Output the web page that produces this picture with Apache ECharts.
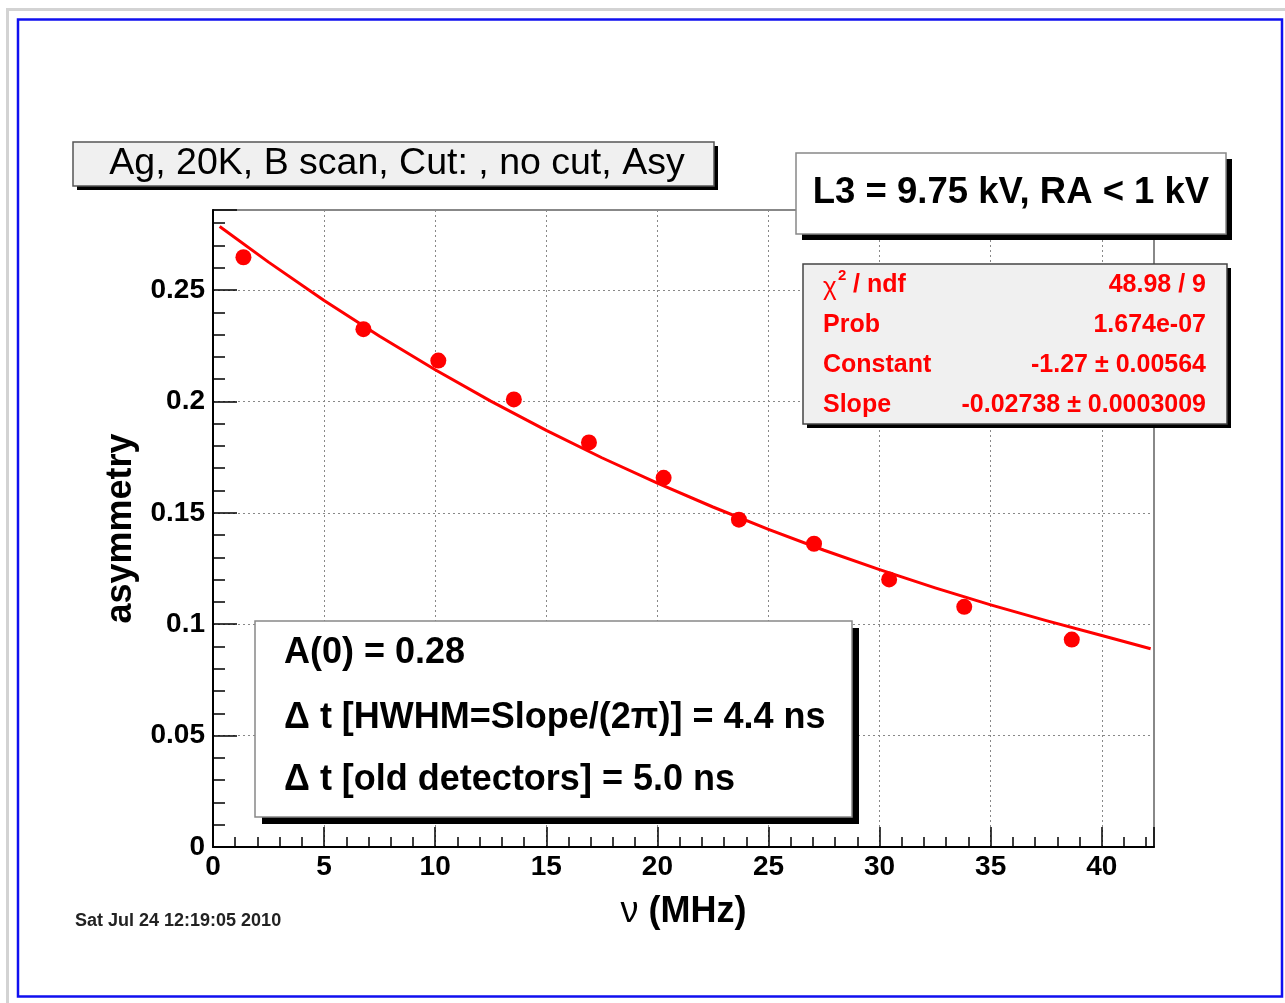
<!DOCTYPE html>
<html>
<head>
<meta charset="utf-8">
<script src="https://cdn.jsdelivr.net/npm/echarts@6/dist/echarts.min.js"></script>
<style>
html, body { margin: 0; padding: 0; background: #fff; }
#chart { width: 1285px; height: 1003px; }
</style>
</head>
<body>
<div id="chart"></div>
<script>
// measured asymmetry vs frequency
var nuMHz = [1.37, 6.77, 10.14, 13.54, 16.92, 20.28, 23.67, 27.05, 30.43, 33.81, 38.65];
var asym  = [0.2647, 0.2324, 0.2183, 0.2009, 0.1816, 0.1657, 0.1469, 0.1361, 0.1201, 0.1078, 0.0931];

// fit curve
var fitNu   = [0.3, 2.5, 5, 7.5, 10, 12.5, 15, 17.5, 20, 22.5, 25, 27.5, 30, 32.5, 35, 37.5, 40, 42.2];
var fitAsym = [0.2785, 0.2625, 0.2453, 0.2292, 0.2142, 0.2001, 0.1870, 0.1747, 0.1633, 0.1526, 0.1426, 0.1332, 0.1245, 0.1163, 0.1087, 0.1016, 0.0949, 0.0890];

var titleText = 'Ag, 20K, B scan, Cut: , no cut, Asy';
var cutText = 'L3 = 9.75 kV, RA < 1 kV';
var statNames = ['', 'Prob', 'Constant', 'Slope'];
var statValues = ['48.98 / 9', '1.674e-07', '-1.27 \u00b1 0.00564', '-0.02738 \u00b1 0.0003009'];
var noteLines = ['A(0) = 0.28', '\u0394 t [HWHM=Slope/(2\u03c0)] = 4.4 ns', '\u0394 t [old detectors] = 5.0 ns'];
var dateText = 'Sat Jul 24 12:19:05 2010';

var FONT = '"Liberation Sans", Arial, Helvetica, sans-serif';
var chart = echarts.init(document.getElementById('chart'));

var plot = { left: 213, top: 210, width: 941, height: 637 };

function fitPairs() {
    return fitNu.map(function (x, i) { return [x, fitAsym[i]]; });
}
function pointPairs() {
    return nuMHz.map(function (x, i) { return [x, asym[i]]; });
}

// boxes with a drop shadow, ROOT style
function box(x, y, w, h, off, fill, stroke) {
    return [
        { type: 'rect', z: 100, shape: { x: x + off, y: y + off, width: w, height: h }, style: { fill: '#000' } },
        { type: 'rect', z: 101, shape: { x: x, y: y, width: w, height: h }, style: { fill: fill, stroke: stroke, lineWidth: 1.5 } }
    ];
}

var elements = [];
// page frame
elements.push({ type: 'rect', z: 90, shape: { x: 6, y: 8, width: 1279, height: 3 }, style: { fill: '#d3d3d3' } });
elements.push({ type: 'rect', z: 90, shape: { x: 6, y: 8, width: 3, height: 995 }, style: { fill: '#d3d3d3' } });
elements.push({ type: 'rect', z: 90, shape: { x: 18, y: 19.5, width: 1264, height: 977 }, style: { fill: null, stroke: '#1010f0', lineWidth: 2.5 } });

// title
elements = elements.concat(box(73, 142, 641, 44, 4, '#f0f0f0', '#555'));
elements.push({ type: 'text', z: 102, x: 397, y: 164, style: { text: titleText, font: 'normal 37.5px ' + FONT, fill: '#000', align: 'center', verticalAlign: 'middle' } });

// cut label
elements = elements.concat(box(796, 153, 430, 81, 6, '#fff', '#888'));
elements.push({ type: 'text', z: 102, x: 1011, y: 193, style: { text: cutText, font: 'bold 36.5px ' + FONT, fill: '#000', align: 'center', verticalAlign: 'middle' } });

// fit statistics
elements = elements.concat(box(803, 264, 424, 160, 4, '#f0f0f0', '#444'));
var rowY = [285, 325, 365, 405];
rowY.forEach(function (y, i) {
    if (i === 0) {
        elements.push({ type: 'text', z: 102, x: 823, y: y + 3, style: { text: '\u03c7', font: 'normal 26px ' + FONT, fill: '#f00', align: 'left', verticalAlign: 'middle' } });
        elements.push({ type: 'text', z: 102, x: 838, y: y - 9, style: { text: '2', font: 'bold 15px ' + FONT, fill: '#f00', align: 'left', verticalAlign: 'middle' } });
        elements.push({ type: 'text', z: 102, x: 853, y: y, style: { text: '/ ndf', font: 'bold 25px ' + FONT, fill: '#f00', align: 'left', verticalAlign: 'middle' } });
    } else {
        elements.push({ type: 'text', z: 102, x: 823, y: y, style: { text: statNames[i], font: 'bold 25px ' + FONT, fill: '#f00', align: 'left', verticalAlign: 'middle' } });
    }
    elements.push({ type: 'text', z: 102, x: 1206, y: y, style: { text: statValues[i], font: 'bold 25px ' + FONT, fill: '#f00', align: 'right', verticalAlign: 'middle' } });
});

// notes
elements = elements.concat(box(255, 621, 597, 196, 7, '#fff', '#888'));
var noteY = [653, 718, 780];
noteLines.forEach(function (t, i) {
    elements.push({ type: 'text', z: 102, x: 284, y: noteY[i], style: { text: t, font: 'bold 36px ' + FONT, fill: '#000', align: 'left', verticalAlign: 'middle' } });
});

elements.push({ type: 'text', z: 102, x: 75, y: 921, style: { text: dateText, font: 'bold 18px ' + FONT, fill: '#222', align: 'left', verticalAlign: 'middle' } });

var xMin = 0, xMax = 42.35, yMin = 0, yMax = 0.2859;

var option = {
    backgroundColor: '#fff',
    animation: false,
    grid: [
        Object.assign({ show: true, borderColor: '#888', borderWidth: 2, backgroundColor: 'transparent', outerBoundsMode: 'none' }, plot),
        Object.assign({ show: false, outerBoundsMode: 'none' }, plot)
    ],
    xAxis: [
        {
            gridIndex: 0, type: 'value', min: xMin, max: xMax, interval: 5,
            name: '{nu|\u03bd} (MHz)', nameLocation: 'middle', nameGap: 47,
            nameTextStyle: { fontFamily: FONT, fontSize: 36, fontWeight: 'bold', color: '#000', rich: { nu: { fontFamily: FONT, fontSize: 36, fontWeight: 'normal', color: '#000' } } },
            axisLine: { show: true, onZero: false, lineStyle: { color: '#000', width: 2 } },
            axisTick: { show: true, inside: true, length: 20, lineStyle: { color: '#000', width: 1.5 } },
            axisLabel: {
                margin: 6, fontFamily: FONT, fontSize: 28, fontWeight: 'bold', color: '#000',
                formatter: function (v) { return Math.abs(v % 5) < 1e-9 ? String(v) : ''; }
            },
            splitLine: { show: true, lineStyle: { color: '#888', width: 1, type: [2, 3] } }
        },
        {
            gridIndex: 1, type: 'value', min: xMin, max: xMax, interval: 1,
            axisLine: { show: false },
            axisTick: { show: true, inside: true, length: 10, lineStyle: { color: '#000', width: 1.5 } },
            axisLabel: { show: false },
            splitLine: { show: false }
        }
    ],
    yAxis: [
        {
            gridIndex: 0, type: 'value', min: yMin, max: yMax, interval: 0.05,
            name: 'asymmetry', nameLocation: 'middle', nameGap: 74,
            nameTextStyle: { fontFamily: FONT, fontSize: 36, fontWeight: 'bold', color: '#000' },
            axisLine: { show: true, onZero: false, lineStyle: { color: '#000', width: 2 } },
            axisTick: { show: true, inside: true, length: 24, lineStyle: { color: '#000', width: 1.5 } },
            axisLabel: {
                margin: 8, fontFamily: FONT, fontSize: 28, fontWeight: 'bold', color: '#000',
                formatter: function (v) {
                    var k = v / 0.05;
                    return Math.abs(k - Math.round(k)) < 1e-6 ? String(+v.toFixed(2)) : '';
                }
            },
            splitLine: { show: true, lineStyle: { color: '#888', width: 1, type: [2, 3] } }
        },
        {
            gridIndex: 1, type: 'value', min: yMin, max: yMax, interval: 0.01,
            axisLine: { show: false },
            axisTick: { show: true, inside: true, length: 12, lineStyle: { color: '#000', width: 1.5 } },
            axisLabel: { show: false },
            splitLine: { show: false }
        }
    ],
    series: [
        {
            type: 'line', xAxisIndex: 0, yAxisIndex: 0, data: fitPairs(),
            smooth: false, showSymbol: false, z: 3,
            lineStyle: { color: '#f00', width: 3, join: 'round' }
        },
        {
            type: 'scatter', xAxisIndex: 0, yAxisIndex: 0, data: pointPairs(),
            symbol: 'circle', symbolSize: 16, z: 4,
            itemStyle: { color: '#f00', opacity: 1 }
        }
    ],
    graphic: { elements: elements }
};

chart.setOption(option);
</script>
</body>
</html>
